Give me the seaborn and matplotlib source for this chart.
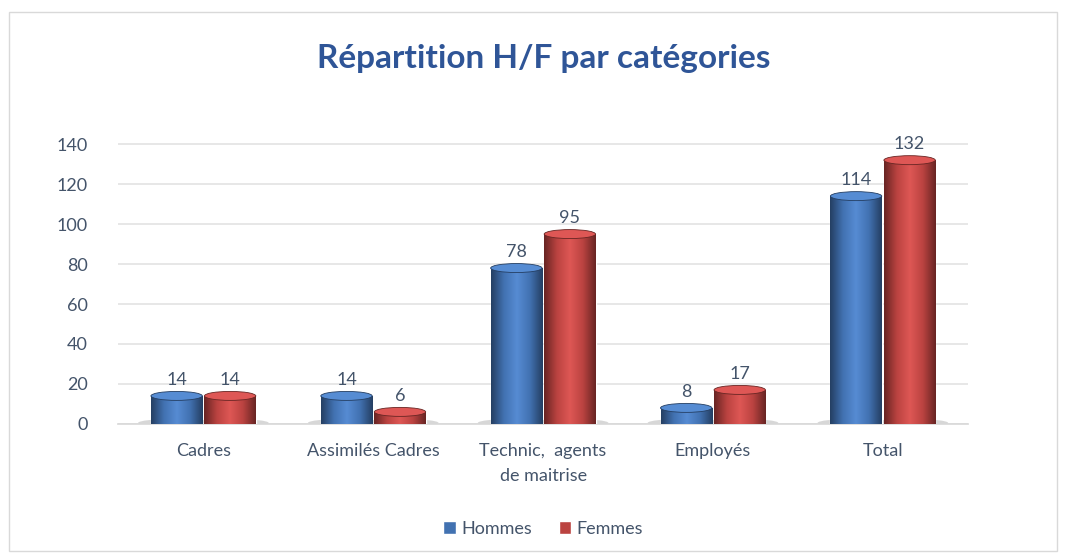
import matplotlib

matplotlib.use("Agg")
import matplotlib.pyplot as plt
import numpy as np
import pandas as pd
import seaborn as sns
from matplotlib.colors import LinearSegmentedColormap
from matplotlib.patches import Ellipse, Rectangle

categories = ["Cadres", "Assimilés Cadres", "Technic,  agents\nde maitrise", "Employés", "Total"]
hommes = [14, 14, 78, 8, 114]
femmes = [14, 6, 95, 17, 132]
series = ["Hommes", "Femmes"]
y_ticks = [0, 20, 40, 60, 80, 100, 120, 140]

BLUE = "#2f6fc4"
RED = "#cf2f2c"
TEXT = "#44546a"
TITLE = "#2f5597"

sns.set_theme(style="white")
plt.rcParams["font.family"] = ["Lato", "DejaVu Sans"]

df = pd.DataFrame({
    "categorie": categories * 2,
    "valeur": hommes + femmes,
    "sexe": [series[0]] * len(categories) + [series[1]] * len(categories),
})

fig = plt.figure(figsize=(10.67, 5.57), dpi=100)
ax = fig.add_axes([0.111, 0.239, 0.796, 0.538])

sns.barplot(data=df, x="categorie", y="valeur", hue="sexe", order=categories,
            hue_order=series, palette=[BLUE, RED], width=0.63, gap=0.04,
            ax=ax, legend=True, zorder=3)

ax.set_ylim(0, 150)
ax.set_xlim(-0.5, len(categories) - 0.5)
ax.set_yticks(y_ticks)
ax.yaxis.grid(True, color="#e3e3e3", linewidth=1.2, zorder=0)
ax.set_xlabel("")
ax.set_ylabel("")
for side in ["top", "right", "left"]:
    ax.spines[side].set_visible(False)
ax.spines["bottom"].set_color("#d9d9d9")
ax.tick_params(axis="both", length=0, colors=TEXT, labelsize=13)
ax.tick_params(axis="x", pad=14)
ax.tick_params(axis="y", pad=22)
for lab in ax.get_xticklabels():
    lab.set_linespacing(1.7)

# cylinder look: gradient fill, top cap, ground shadow
bars = [p for p in ax.patches if isinstance(p, Rectangle) and p.get_height() > 0]
for bar in bars:
    x0, w, h = bar.get_x(), bar.get_width(), bar.get_height()
    base = bar.get_facecolor()
    dark = tuple(c * 0.55 for c in base[:3])
    light = tuple(min(1, c * 1.12 + 0.05) for c in base[:3])
    cmap = LinearSegmentedColormap.from_list("cyl", [dark, base[:3], light, base[:3], dark])
    grad = np.linspace(0, 1, 256).reshape(1, -1)
    bar.set_facecolor("none")
    im = ax.imshow(grad, cmap=cmap, aspect="auto", extent=[x0, x0 + w, 0, h],
                   zorder=3, interpolation="bicubic")
    im.set_clip_path(bar)
    ax.add_patch(Ellipse((x0 + w / 2, 0.5), w * 1.5, 4, color="#b0b0b0",
                         alpha=0.5, zorder=2, lw=0))
    ax.add_patch(Ellipse((x0 + w / 2, h), w, 4.5, facecolor=light,
                         edgecolor=dark, lw=0.6, zorder=4))
    ax.text(x0 + w / 2, h + 4, f"{h:.0f}", ha="center", va="bottom",
            color=TEXT, fontsize=13, zorder=5)
ax.set_xlim(-0.5, len(categories) - 0.5)
ax.set_ylim(0, 150)

leg = ax.legend(loc="upper center", bbox_to_anchor=(0.5, -0.27), ncol=2,
                frameon=False, handlelength=0.7, handleheight=0.7,
                handletextpad=0.3, columnspacing=1.5, fontsize=13)
for t in leg.get_texts():
    t.set_color(TEXT)

fig.text(0.51, 0.895, "Répartition H/F par catégories", ha="center", va="center",
         fontsize=24, fontweight="bold", color=TITLE)

fig.patches.append(Rectangle((0.008, 0.01), 0.983, 0.968, transform=fig.transFigure,
                             fill=False, edgecolor="#d9d9d9", linewidth=1))

fig.savefig("out.png", dpi=100)
